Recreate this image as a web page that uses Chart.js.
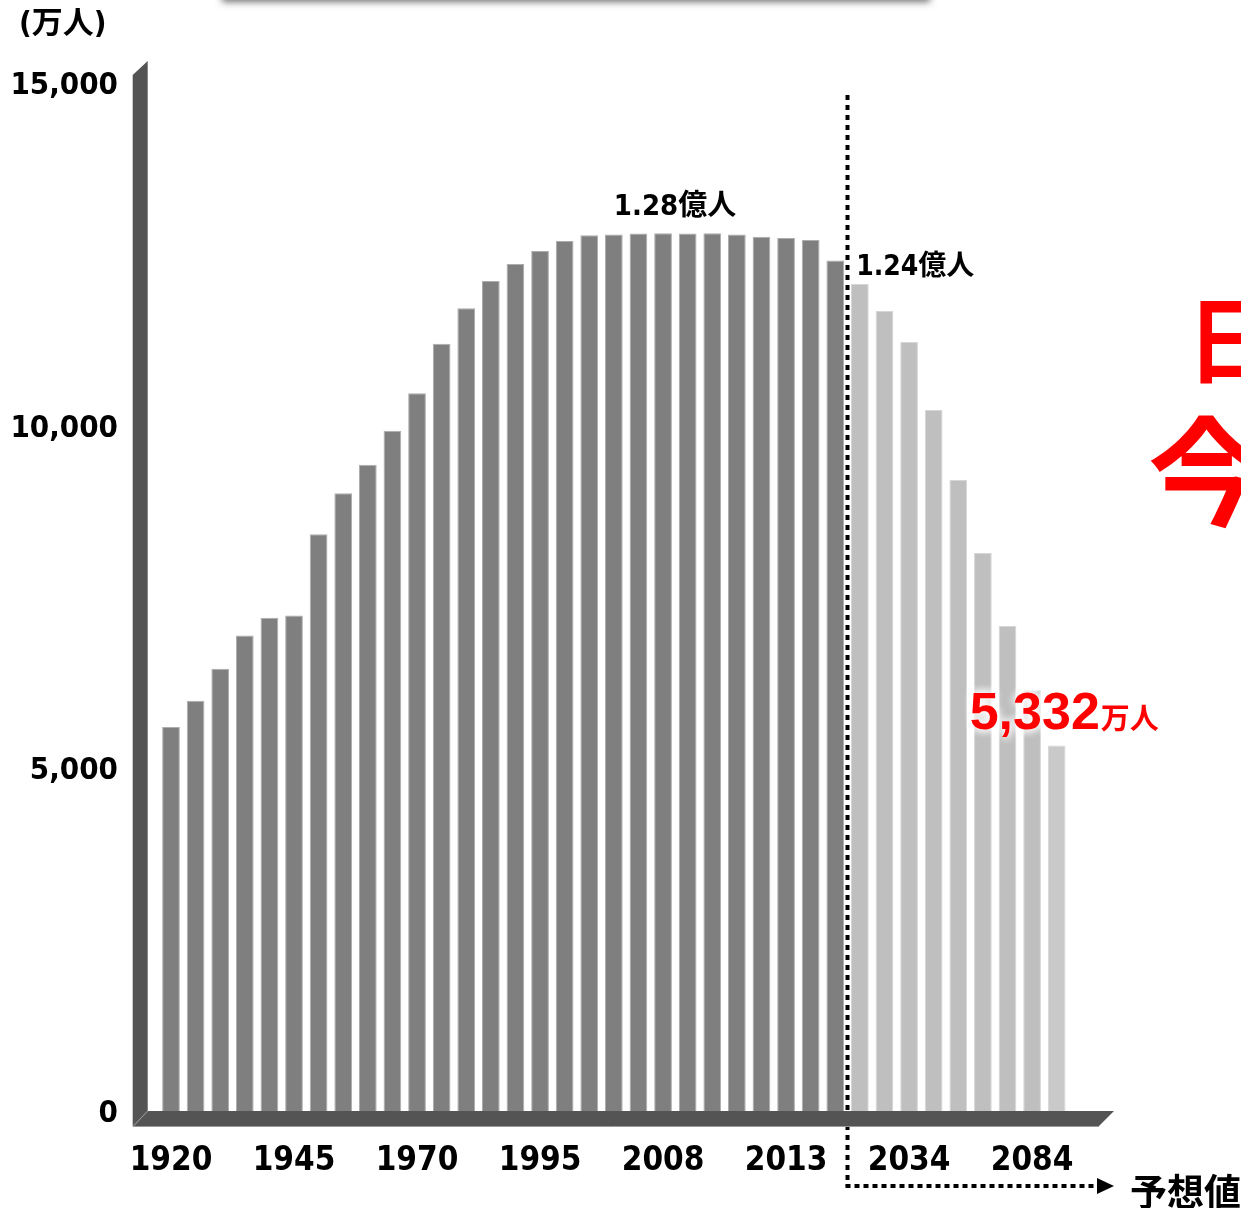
<!DOCTYPE html>
<html>
<head>
<meta charset="utf-8">
<script src="https://cdn.jsdelivr.net/npm/chart.js@4/dist/chart.umd.min.js"></script>
<style>
  html, body { margin: 0; padding: 0; background: #fff; overflow: hidden; }
  canvas { display: block; }
</style>
</head>
<body>
<canvas id="chart" width="1241" height="1208"></canvas>
<script>
// Total population of Japan (unit: 10,000 people); actual figures then projections
const years = [
  '1920', '', '', '', '', '1945', '', '', '', '',
  '1970', '', '', '', '', '1995', '', '', '', '',
  '2008', '', '', '', '', '2013', '', '', '', '',
  '2034', '', '', '', '', '2084', ''
];
const population = [
  5602, 5987, 6453, 6939, 7196, 7230, 8415, 9013, 9431, 9927,
  10473, 11197, 11712, 12110, 12360, 12550, 12695, 12777, 12790, 12803,
  12808, 12803, 12806, 12790, 12757, 12739, 12708, 12410, 12068, 11674,
  11222, 10229, 9208, 8143, 7078, 6140, 5332
];
const forecastFrom = 28;          // first projected bar
const yTickValues = [0, 5000, 10000, 15000];
const unitText = '(万人)';
const peakIndex = 20;
const peakText = '1.28億人';
const latestIndex = 27;
const latestText = '1.24億人';
const finalNumber = '5,332';
const finalUnit = '万人';
const forecastText = '予想値';

const LATIN = '"DejaVu Sans Condensed", "DejaVu Sans", "Noto Sans CJK JP", sans-serif';
const CJK = '"Noto Sans CJK JP", sans-serif';

const decor = {
  id: 'decor',
  beforeDraw(chart) {
    const ctx = chart.ctx;
    // shadow of the heading box above the chart
    ctx.save();
    ctx.shadowColor = 'rgba(0,0,0,0.55)';
    ctx.shadowBlur = 7;
    ctx.shadowOffsetY = 2;
    ctx.fillStyle = '#c8c8c8';
    ctx.fillRect(222, -30, 708, 30);
    ctx.restore();
  },
  afterDatasetsDraw(chart) {
    const ctx = chart.ctx;
    const xs = chart.scales.x, ys = chart.scales.y;
    const ca = chart.chartArea;
    const meta = chart.getDatasetMeta(0).data;
    const y0 = ys.getPixelForValue(0);
    const yTop = ys.getPixelForValue(15000);

    // dotted separator between actual and projected values
    const sepX = Math.round((xs.getPixelForValue(forecastFrom - 1) + xs.getPixelForValue(forecastFrom)) / 2) - 0.5;
    const lineY = 1186;
    ctx.save();
    ctx.strokeStyle = '#000';
    ctx.lineWidth = 4;
    ctx.setLineDash([5, 5]);
    ctx.beginPath();
    ctx.moveTo(sepX, yTop + 12);
    ctx.lineTo(sepX, lineY);
    ctx.stroke();
    ctx.setLineDash([5, 4]);
    ctx.beginPath();
    ctx.moveTo(sepX - 2, lineY);
    ctx.lineTo(1097, lineY);
    ctx.stroke();
    ctx.setLineDash([]);
    ctx.fillStyle = '#000';
    ctx.beginPath();
    ctx.moveTo(1097, lineY - 8);
    ctx.lineTo(1114, lineY);
    ctx.lineTo(1097, lineY + 8);
    ctx.closePath();
    ctx.fill();
    ctx.restore();

    // 3D wall and floor
    const wallR = ca.left - 11, wallL = wallR - 15, depth = 15;
    const floorR = ca.right + 45;
    ctx.save();
    ctx.fillStyle = '#545454';
    ctx.beginPath();
    ctx.moveTo(wallL, yTop - 8);
    ctx.lineTo(wallR, yTop - 22);
    ctx.lineTo(wallR, y0);
    ctx.lineTo(wallL, y0 + depth);
    ctx.closePath();
    ctx.fill();
    ctx.beginPath();
    ctx.moveTo(wallR, y0);
    ctx.lineTo(floorR, y0);
    ctx.lineTo(floorR - depth, y0 + depth);
    ctx.lineTo(wallL, y0 + depth);
    ctx.closePath();
    ctx.fill();
    ctx.strokeStyle = '#9a9a9a';
    ctx.lineWidth = 1;
    ctx.beginPath();
    ctx.moveTo(wallL, y0 + depth + 0.5);
    ctx.lineTo(floorR - depth, y0 + depth + 0.5);
    ctx.moveTo(wallR, y0);
    ctx.lineTo(wallL + 1, y0 + depth);
    ctx.stroke();
    ctx.restore();

    // value labels
    ctx.save();
    ctx.fillStyle = '#000';
    ctx.textBaseline = 'middle';
    const peak = meta[peakIndex];
    ctx.font = 'bold 29px ' + LATIN;
    ctx.textAlign = 'center';
    ctx.fillText(peakText, peak.x + 12, peak.y - 26);
    const latest = meta[latestIndex];
    ctx.font = 'bold 28px ' + LATIN;
    ctx.textAlign = 'left';
    ctx.fillText(latestText, latest.x + latest.width / 2 + 12, latest.y + 7);
    ctx.restore();

    // final projected value, red with a white glow
    const last = meta[meta.length - 1];
    const bx = last.x - 87, by = last.y - 17;
    const drawFinal = () => {
      ctx.font = 'bold 52px "Liberation Sans", Arial, sans-serif';
      ctx.fillText(finalNumber, bx, by);
      const w = ctx.measureText(finalNumber).width;
      ctx.font = 'bold 29px ' + CJK;
      ctx.fillText(finalUnit, bx + w + 1, by);
    };
    ctx.save();
    ctx.textAlign = 'left';
    ctx.textBaseline = 'alphabetic';
    ctx.shadowColor = 'rgba(255,255,255,1)';
    ctx.shadowBlur = 10;
    ctx.fillStyle = 'rgba(255,255,255,0.9)';
    for (let i = 0; i < 3; i++) drawFinal();
    ctx.shadowBlur = 0;
    ctx.shadowColor = 'transparent';
    ctx.fillStyle = '#ff0000';
    drawFinal();
    ctx.restore();
  },
  afterDraw(chart) {
    const ctx = chart.ctx;
    ctx.save();
    ctx.fillStyle = '#000';
    ctx.textBaseline = 'middle';
    ctx.textAlign = 'left';
    ctx.font = 'bold 31px ' + LATIN;
    ctx.fillText(unitText, 19, 25);
    ctx.font = 'bold 37px ' + CJK;
    ctx.fillText(forecastText, 1130, 1192);
    // red heading text running off the right edge
    ctx.fillStyle = '#ff0000';
    ctx.textBaseline = 'alphabetic';
    ctx.font = 'bold 94px ' + CJK;
    ctx.fillText('日本', 1186, 376);
    ctx.font = 'bold 118px ' + CJK;
    ctx.fillText('今後', 1148, 517);
    ctx.restore();
  }
};

new Chart(document.getElementById('chart'), {
  type: 'bar',
  data: {
    labels: years,
    datasets: [{
      data: population,
      backgroundColor: (c) => c.dataIndex < forecastFrom ? '#7f7f7f'
        : (c.dataIndex === population.length - 1 ? '#c9c9c9' : '#bfbfbf'),
      borderColor: (c) => c.dataIndex < forecastFrom ? '#adadad' : '#d6d6d6',
      borderWidth: 1,
      barPercentage: 0.72,
      categoryPercentage: 1.0
    }]
  },
  options: {
    responsive: false,
    animation: false,
    devicePixelRatio: 1,
    layout: { padding: { left: 0, right: 172, top: 83, bottom: 0 } },
    plugins: { legend: { display: false }, tooltip: { enabled: false } },
    scales: {
      x: {
        grid: { display: false, drawTicks: false },
        border: { display: false },
        ticks: {
          autoSkip: false,
          maxRotation: 0,
          padding: 31,
          color: '#000',
          font: { family: LATIN, size: 33, weight: 'bold' }
        },
        afterFit(scale) { scale.height = 97; }
      },
      y: {
        min: 0,
        max: 15000,
        afterBuildTicks(scale) { scale.ticks = yTickValues.map(v => ({ value: v })); },
        grid: { display: false, drawTicks: false },
        border: { display: false },
        ticks: {
          padding: 40.7,
          labelOffset: 3,
          color: '#000',
          font: { family: LATIN, size: 31, weight: 'bold' },
          callback: (v) => Number(v).toLocaleString('en-US')
        },
        afterFit(scale) { scale.width = 158.7; }
      }
    }
  },
  plugins: [decor]
});
</script>
</body>
</html>
